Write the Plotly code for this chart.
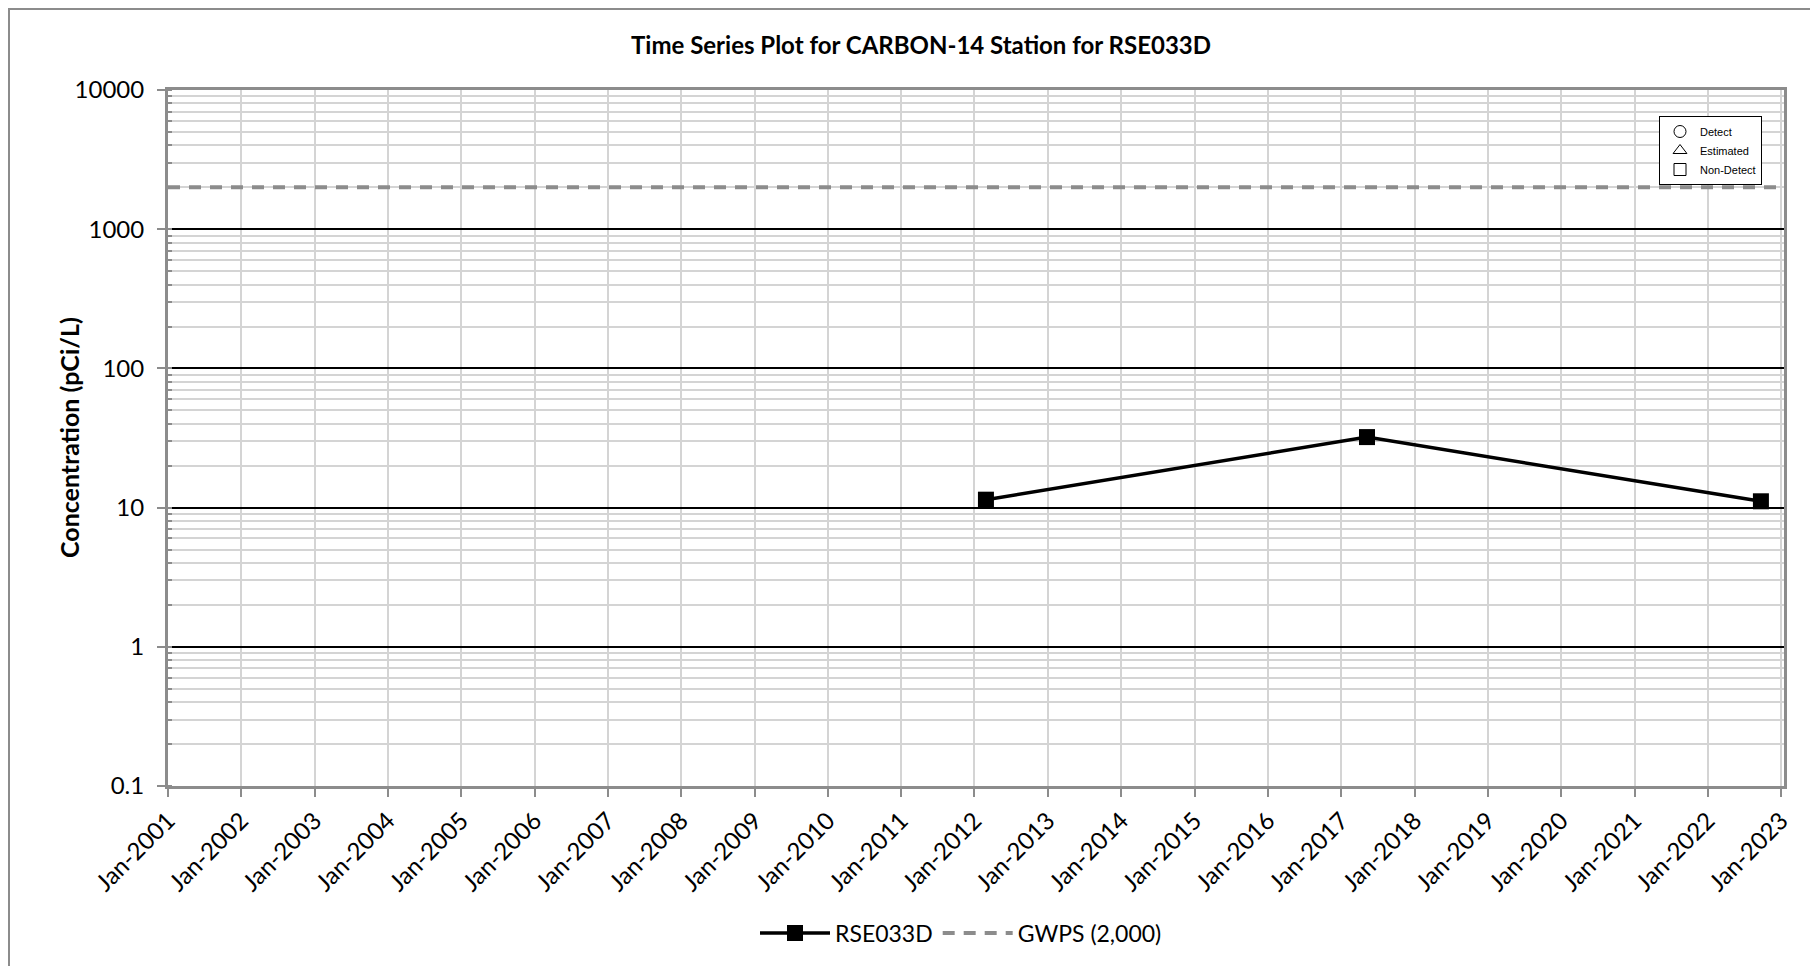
import plotly.graph_objects as go

# sample dates and results for the station
station = "RSE033D"
sample_dates = ["2012-02-27", "2017-05-09", "2022-09-22"]
concentrations = [11.4, 32.1, 11.1]

# groundwater protection standard
gwps_dates = ["2001-01-01", "2023-01-15"]
gwps_values = [2000, 2000]

# detect-flag legend entries
flag_names = ["Detect", "Estimated", "Non-Detect"]
flag_symbols = ["circle-open", "triangle-up-open", "square-open"]

# page body adds an 8px margin, so the figure is a bit smaller than the window
OFF = 8
W, H = 1818 - 2 * OFF, 974 - 2 * OFF
L, T = 168 - OFF, 90 - OFF
R = W - (1784 - OFF)
B = H - (786 - OFF)
PW, PH = W - L - R, H - T - B


def px(xp):
    # window pixel -> paper x
    return (xp - OFF - L) / PW


def py(yp):
    # window pixel -> paper y
    return (H - B - (yp - OFF)) / PH


FONT = "Lato, 'Open Sans', sans-serif"

fig = go.Figure()

fig.add_trace(go.Scatter(
    x=sample_dates,
    y=concentrations,
    mode="lines+markers",
    name=station,
    line=dict(color="black", width=3.5),
    marker=dict(symbol="square", size=16, color="black"),
    legend="legend"
))

fig.add_trace(go.Scatter(
    x=gwps_dates,
    y=gwps_values,
    mode="lines",
    name="GWPS (2,000)",
    line=dict(color="#8c8c8c", width=4, dash="12px,9px"),
    legend="legend"
))

for name, sym in zip(flag_names, flag_symbols):
    fig.add_trace(go.Scatter(
        x=[None],
        y=[None],
        mode="markers",
        name=name,
        marker=dict(symbol=sym, size=12, color="black",
                    line=dict(width=1, color="black")),
        legend="legend2",
        hoverinfo="skip"
    ))

# chart frame (only left and top edges fall inside the picture)
fig.add_shape(
    type="rect", xref="paper", yref="paper",
    x0=px(9), x1=px(1840), y0=py(1000), y1=py(9),
    line=dict(color="#8c8c8c", width=2), fillcolor="rgba(0,0,0,0)",
    layer="below"
)

fig.add_annotation(
    text="<b>Concentration (pCi/L)</b>",
    xref="paper", yref="paper",
    x=px(52), y=0.5,
    textangle=-90,
    showarrow=False,
    font=dict(family=FONT, size=25, color="black")
)

fig.update_layout(
    width=W,
    height=H,
    paper_bgcolor="white",
    plot_bgcolor="white",
    margin=dict(l=L, r=R, t=T, b=B),
    font=dict(family=FONT, size=24, color="black"),
    title=dict(
        text="<b>Time Series Plot for CARBON-14 Station for RSE033D</b>",
        x=(921 - OFF) / W,
        xanchor="center",
        y=1 - (46 - OFF) / H,
        yanchor="middle",
        font=dict(family=FONT, size=24, color="black")
    ),
    xaxis=dict(
        type="date",
        range=["2001-01-01", "2023-01-15"],
        tick0="2001-01-01",
        dtick="M12",
        tickformat="%b-%Y",
        tickangle=-45,
        ticks="outside",
        ticklen=8,
        tickwidth=2,
        tickcolor="#8c8c8c",
        showgrid=True,
        gridcolor="#d4d4d4",
        gridwidth=2,
        showline=True,
        linecolor="#8c8c8c",
        linewidth=3,
        mirror=True,
        zeroline=False,
        tickfont=dict(size=24)
    ),
    yaxis=dict(
        type="log",
        range=[-1, 4],
        tickvals=[0.1, 1, 10, 100, 1000, 10000],
        ticktext=["0.1", "1", "10", "100", "1000", "10000"],
        ticks="outside",
        ticklen=8,
        tickwidth=2,
        tickcolor="#8c8c8c",
        ticklabelstandoff=8,
        showgrid=True,
        gridcolor="black",
        gridwidth=2,
        minor=dict(
            dtick="D1",
            ticks="inside",
            ticklen=4,
            tickwidth=2,
            tickcolor="#8c8c8c",
            showgrid=True,
            gridcolor="#d4d4d4",
            gridwidth=2
        ),
        showline=True,
        linecolor="#8c8c8c",
        linewidth=3,
        mirror=True,
        zeroline=False,
        tickfont=dict(size=24)
    ),
    legend=dict(
        orientation="h",
        x=px(961),
        xanchor="center",
        y=py(933),
        yanchor="middle",
        font=dict(family=FONT, size=23, color="black"),
        itemwidth=70,
        bgcolor="rgba(0,0,0,0)"
    ),
    legend2=dict(
        x=px(1659),
        xanchor="left",
        y=py(116),
        yanchor="top",
        font=dict(family="'Liberation Sans Narrow', 'Liberation Sans', Arial, sans-serif",
                  size=11, color="black"),
        bgcolor="white",
        bordercolor="black",
        borderwidth=1,
        itemwidth=30,
        tracegroupgap=0
    ),
    showlegend=True
)

fig.write_html("out.html")
